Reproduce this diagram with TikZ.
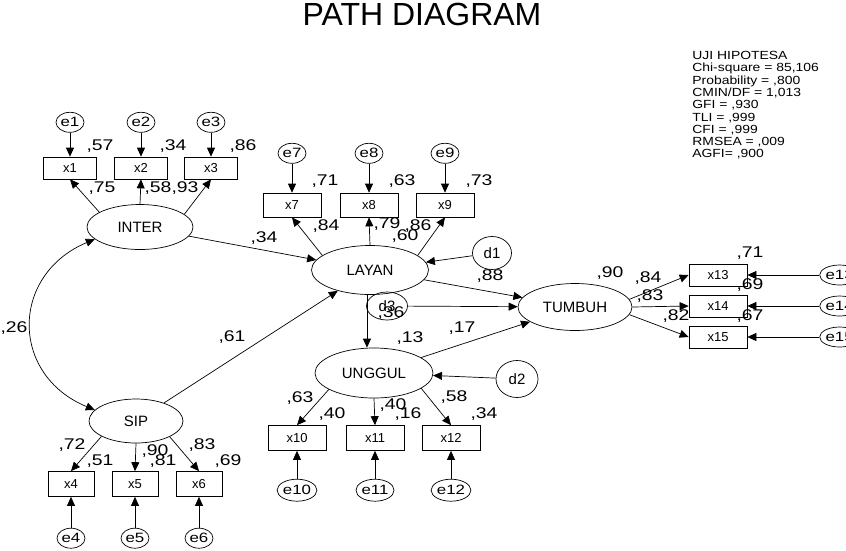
\documentclass[tikz,border=0pt]{standalone}
\usepackage{fontspec}
\setmainfont{Liberation Sans}
\newfontfamily\widefont{Liberation Sans}[FakeStretch=1.25]
\newfontfamily\statfont{Liberation Sans}[FakeStretch=1.18]
\usetikzlibrary{shapes.geometric, arrows.meta, positioning}

\begin{document}
\begin{tikzpicture}[
                x=1pt, y=-1pt,
                line width=0.7pt,
                font=\fontsize{15}{17}\selectfont,
                latent/.style={ellipse, draw, inner sep=0pt},
                obsbox/.style={rectangle, draw, inner sep=0pt, minimum width=58pt, minimum height=23pt, font=\fontsize{13}{15}\selectfont},
                errc/.style={ellipse, draw, inner sep=0pt, minimum width=28pt, minimum height=20pt, font={\widefont\fontsize{13.5}{15}\selectfont}},
                dist/.style={ellipse, draw, inner sep=0pt},
                coef/.style={inner sep=0pt, font={\widefont\fontsize{15.5}{17}\selectfont}},
                arrow/.style={-{Triangle[length=9pt,width=8pt]}},
                covarrow/.style={{Triangle[length=9pt,width=8pt]}-{Triangle[length=9pt,width=8pt]}}
            ]
            \useasboundingbox (0,0) rectangle (846,550);

            \node (title) at (422,14.5) [font=\fontsize{32}{36}\selectfont] {PATH DIAGRAM};
            \node (fitidx) at (692,51) [anchor=north west, align=left, inner sep=0pt, font={\statfont\fontsize{11.8}{12.3}\selectfont}]
                {UJI HIPOTESA\\Chi-square = 85,106\\Probability = ,800\\CMIN/DF = 1,013\\GFI = ,930\\TLI = ,999\\CFI = ,999\\RMSEA = ,009\\AGFI= ,900};

            % latent variables
            \node (INTER) at (140,227) [latent, minimum width=106pt, minimum height=45pt] {INTER};
            \node (SIP) at (136,421) [latent, minimum width=94pt, minimum height=44pt] {SIP};
            \node (LAYAN) at (370,270) [latent, minimum width=117pt, minimum height=49pt] {LAYAN};
            \node (UNGGUL) at (374,373) [latent, minimum width=118pt, minimum height=50pt] {UNGGUL};
            \node (TUMBUH) at (575,307) [latent, minimum width=114pt, minimum height=47pt] {TUMBUH};

            % indicators
            \node (x1) at (70,168) [obsbox, minimum width=53pt, minimum height=22pt] {x1};
            \node (x2) at (141,168) [obsbox, minimum width=53pt, minimum height=22pt] {x2};
            \node (x3) at (211,168) [obsbox, minimum width=53pt, minimum height=22pt] {x3};
            \node (x4) at (71,484) [obsbox, minimum width=46pt, minimum height=25pt] {x4};
            \node (x5) at (135,484) [obsbox, minimum width=46pt, minimum height=25pt] {x5};
            \node (x6) at (199,484) [obsbox, minimum width=46pt, minimum height=25pt] {x6};
            \node (x7) at (292,205) [obsbox, minimum height=24pt] {x7};
            \node (x8) at (369,205) [obsbox, minimum height=24pt] {x8};
            \node (x9) at (445,205) [obsbox, minimum height=24pt] {x9};
            \node (x10) at (297,438) [obsbox, minimum height=25pt] {x10};
            \node (x11) at (375,438) [obsbox, minimum height=25pt] {x11};
            \node (x12) at (451,438) [obsbox, minimum height=25pt] {x12};
            \node (x13) at (718,275) [obsbox, minimum height=22pt] {x13};
            \node (x14) at (718,306) [obsbox, minimum height=22pt] {x14};
            \node (x15) at (718,337) [obsbox, minimum height=22pt] {x15};

            % errors
            \node (e1) [errc, above=24pt of x1] {e1};
            \node (e2) [errc, above=24pt of x2] {e2};
            \node (e3) [errc, above=24pt of x3] {e3};
            \node (e4) [errc, below=31pt of x4] {e4};
            \node (e5) [errc, below=31pt of x5] {e5};
            \node (e6) [errc, below=31pt of x6] {e6};
            \node (e7) [errc, above=29pt of x7] {e7};
            \node (e8) [errc, above=29pt of x8] {e8};
            \node (e9) [errc, above=29pt of x9] {e9};
            \node (e10) [errc, below=28pt of x10, minimum height=22pt] {e10};
            \node (e11) [errc, below=28pt of x11, minimum height=22pt] {e11};
            \node (e12) [errc, below=28pt of x12, minimum height=22pt] {e12};
            \node (e13) [errc, right=72pt of x13] {e13};
            \node (e14) [errc, right=72pt of x14] {e14};
            \node (e15) [errc, right=72pt of x15] {e15};

            \node (d1) at (492,253) [dist, minimum width=39pt, minimum height=33pt] {d1};
            \node (d2) at (517,379) [dist, minimum width=42pt, minimum height=37pt] {d2};
            \node (d3) at (387,306) [dist, minimum width=41pt, minimum height=28pt] {d3};

            % measurement paths
            \draw [arrow] (INTER.160) -- (x1.south);
            \draw [arrow] (INTER.north) -- (x2.south);
            \draw [arrow] (INTER.16) -- (x3.south);
            \draw [arrow] (SIP.204) -- (x4.north);
            \draw [arrow] (SIP.south) -- (x5.north);
            \draw [arrow] (SIP.335) -- (x6.north);
            \draw [arrow] (LAYAN.163) -- (x7.south);
            \draw [arrow] (LAYAN.north) -- (x8.south);
            \draw [arrow] (LAYAN.17) -- (x9.south);
            \draw [arrow] (UNGGUL.200) -- (x10.north);
            \draw [arrow] (UNGGUL.south) -- (x11.north);
            \draw [arrow] (UNGGUL.342) -- (x12.north);
            \draw [arrow] (TUMBUH.8) -- (x13.west);
            \draw [arrow] (TUMBUH.east) -- (x14.west);
            \draw [arrow] (TUMBUH.352) -- (x15.west);

            \draw [arrow] (e1) -- (x1);
            \draw [arrow] (e2) -- (x2);
            \draw [arrow] (e3) -- (x3);
            \draw [arrow] (e4) -- (x4);
            \draw [arrow] (e5) -- (x5);
            \draw [arrow] (e6) -- (x6);
            \draw [arrow] (e7) -- (x7);
            \draw [arrow] (e8) -- (x8);
            \draw [arrow] (e9) -- (x9);
            \draw [arrow] (e10) -- (x10);
            \draw [arrow] (e11) -- (x11);
            \draw [arrow] (e12) -- (x12);
            \draw [arrow] (e13) -- (x13);
            \draw [arrow] (e14) -- (x14);
            \draw [arrow] (e15) -- (x15);

            % structural paths
            \draw [covarrow] (INTER.195) .. controls (10,275) and (10,375) .. (SIP.165);
            \draw [arrow] (INTER) -- (LAYAN);
            \draw [arrow] (SIP) -- (LAYAN);
            \draw [arrow] (d1) -- (LAYAN);
            \draw [arrow] (LAYAN.263) -- (LAYAN.263 |- UNGGUL.north);
            \draw [arrow] (d2) -- (UNGGUL);
            \draw [arrow] (LAYAN) -- (TUMBUH);
            \draw [arrow] (UNGGUL) -- (TUMBUH);
            \draw [arrow] (d3) -- (TUMBUH);

            % estimates
            \node (rx1) at (100,146) [coef] {,57};
            \node (rx2) at (173,146) [coef] {,34};
            \node (rx3) at (243,146) [coef] {,86};
            \node (lx1) at (102,188) [coef] {,75};
            \node (lx2) at (158,188) [coef] {,58};
            \node (lx3) at (185,188) [coef] {,93};
            \node (lx4) at (72,445) [coef] {,72};
            \node (rx4) at (100,461) [coef] {,51};
            \node (lx5) at (155,451) [coef] {,90};
            \node (rx5) at (163,461) [coef] {,81};
            \node (lx6) at (202,445) [coef] {,83};
            \node (rx6) at (228,461) [coef] {,69};
            \node (rx7) at (325,181) [coef] {,71};
            \node (rx8) at (402,181) [coef] {,63};
            \node (rx9) at (479,181) [coef] {,73};
            \node (lx7) at (326,226) [coef] {,84};
            \node (lx8) at (387,224) [coef] {,79};
            \node (lx9) at (418,226) [coef] {,86};
            \node (rlayan) at (405,236) [coef] {,60};
            \node (lx10) at (300,398) [coef] {,63};
            \node (rx10) at (332,414) [coef] {,40};
            \node (lx11) at (393,405) [coef] {,40};
            \node (rx11) at (408,414) [coef] {,16};
            \node (lx12) at (454,397) [coef] {,58};
            \node (rx12) at (484,414) [coef] {,34};
            \node (runggul) at (410,338) [coef] {,13};
            \node (bunggul) at (462,328) [coef] {,17};
            \node (rx13) at (750,253) [coef] {,71};
            \node (rx14) at (750,285) [coef] {,69};
            \node (rx15) at (750,316) [coef] {,67};
            \node (rtumbuh) at (610,273) [coef] {,90};
            \node (lx13) at (648,278) [coef] {,84};
            \node (lx14) at (650,296) [coef] {,83};
            \node (lx15) at (676,316) [coef] {,82};
            \node (binter) at (264,238) [coef] {,34};
            \node (bsip) at (232,337) [coef] {,61};
            \node (blayan) at (490,276) [coef] {,88};
            \node (rd3) at (391,313) [coef] {,36};
            \node (cov) at (14,328) [coef] {,26};
            \end{tikzpicture}
\end{document}
